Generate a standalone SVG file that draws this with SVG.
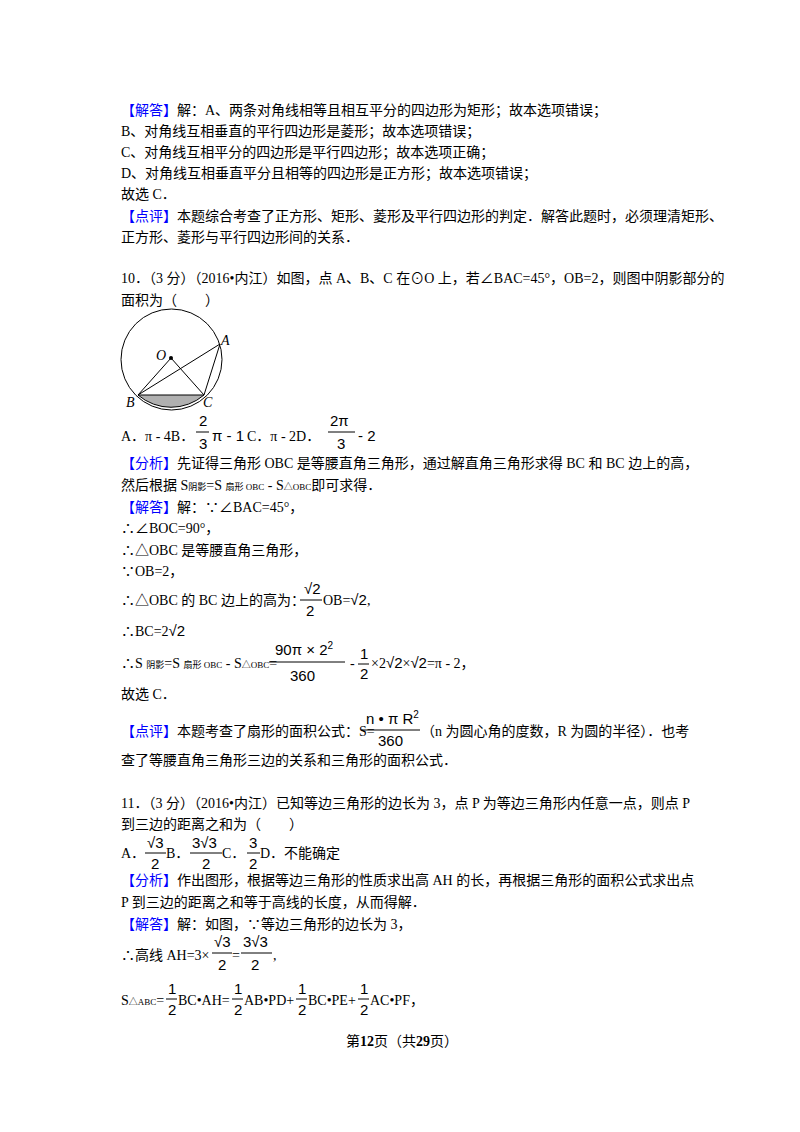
<svg xmlns="http://www.w3.org/2000/svg" width="800" height="1132" viewBox="0 0 800 1132">
<style>
text{font-family:"Liberation Serif","Noto Sans CJK SC",serif;font-size:14px;fill:#000}
.b{fill:#0000ff}
.s{font-family:"Liberation Sans","Noto Sans CJK SC",sans-serif;font-size:15px}
.sm{font-size:9px}
line.f{stroke:#000;stroke-width:1}
</style>
<rect width="800" height="1132" fill="#fff"/>
<text x="121" y="115"><tspan class="b">【解答】</tspan>解：A、两条对角线相等且相互平分的四边形为矩形；故本选项错误；</text>
<text x="121" y="136">B、对角线互相垂直的平行四边形是菱形；故本选项错误；</text>
<text x="121" y="157">C、对角线互相平分的四边形是平行四边形；故本选项正确；</text>
<text x="121" y="178">D、对角线互相垂直平分且相等的四边形是正方形；故本选项错误；</text>
<text x="121" y="199">故选 C．</text>
<text x="121" y="221"><tspan class="b">【点评】</tspan>本题综合考查了正方形、矩形、菱形及平行四边形的判定．解答此题时，必须理清矩形、</text>
<text x="121" y="242">正方形、菱形与平行四边形间的关系．</text>

<text x="121" y="283">10．（3 分）（2016•内江）如图，点 A、B、C 在⊙O 上，若∠BAC=45°，OB=2，则图中阴影部分的</text>
<text x="121" y="305">面积为（　　）</text>
<g id="figure">
<path d="M138,395 A50.5,50.5 0 0 0 204,395 Z" fill="#b0b0b0" stroke="#000"/>
<circle cx="171.5" cy="359.5" r="50.5" fill="none" stroke="#000"/>
<path d="M138,395 L171,358 L204,395 M138,395 L220,344 L204,395" fill="none" stroke="#000"/>
<circle cx="171" cy="358" r="2" fill="#000"/>
<text x="156" y="360" font-style="italic">O</text>
<text x="221" y="345" font-style="italic">A</text>
<text x="126" y="407" font-style="italic">B</text>
<text x="203" y="407" font-style="italic">C</text>
</g>
<text x="121" y="441">A．π - 4B．</text>
<text x="199" y="426" class="s">2</text><line class="f" x1="196" y1="432" x2="209" y2="432"/><text x="199" y="449" class="s">3</text>
<text x="212" y="441" class="s">π - 1</text><text x="247" y="441">C．π - 2D．</text>
<text x="330" y="426" class="s">2π</text><line class="f" x1="328" y1="432" x2="355" y2="432"/><text x="337" y="449" class="s">3</text>
<text x="358" y="441" class="s">- 2</text>

<text x="121" y="468"><tspan class="b">【分析】</tspan>先证得三角形 OBC 是等腰直角三角形，通过解直角三角形求得 BC 和 BC 边上的高，</text>
<text x="121" y="490">然后根据 S<tspan class="sm">阴影</tspan>=S <tspan class="sm">扇形 OBC</tspan> - S<tspan class="sm">△OBC</tspan>即可求得．</text>
<text x="121" y="512"><tspan class="b">【解答】</tspan>解：∵∠BAC=45°，</text>
<text x="121" y="533">∴∠BOC=90°，</text>
<text x="121" y="555">∴△OBC 是等腰直角三角形，</text>
<text x="121" y="576">∵OB=2，</text>
<text x="121" y="605">∴△OBC 的 BC 边上的高为：</text>
<text x="304" y="594" class="s">√2</text><line class="f" x1="300" y1="600" x2="322" y2="600"/><text x="306" y="616" class="s">2</text>
<text x="323" y="605">OB=<tspan class="s">√2</tspan>,</text>
<text x="121" y="636">∴BC=2<tspan class="s">√2</tspan></text>
<text x="121" y="668">∴S <tspan class="sm">阴影</tspan>=S <tspan class="sm">扇形 OBC</tspan> - S<tspan class="sm">△OBC</tspan>=</text>
<text x="275" y="655" class="s">90π × 2<tspan dy="-6" font-size="10">2</tspan></text>
<line class="f" x1="269" y1="662" x2="345" y2="662"/><text x="290" y="681" class="s">360</text>
<text x="350" y="668">-</text>
<text x="360" y="659" class="s">1</text><line class="f" x1="358" y1="664" x2="369" y2="664"/><text x="360" y="679" class="s">2</text>
<text x="371" y="668">×2<tspan class="s">√2</tspan>×<tspan class="s">√2</tspan>=π - 2，</text>
<text x="121" y="699">故选 C．</text>
<text x="121" y="736"><tspan class="b">【点评】</tspan>本题考查了扇形的面积公式：S=</text>
<text x="366" y="724" class="s">n • π R<tspan dy="-6" font-size="10">2</tspan></text>
<line class="f" x1="362" y1="730" x2="420" y2="730"/><text x="378" y="746" class="s">360</text>
<text x="421" y="736">（n 为圆心角的度数，R 为圆的半径）．也考</text>
<text x="121" y="765">查了等腰直角三角形三边的关系和三角形的面积公式．</text>

<text x="121" y="808">11．（3 分）（2016•内江）已知等边三角形的边长为 3，点 P 为等边三角形内任意一点，则点 P</text>
<text x="121" y="829">到三边的距离之和为（　　）</text>
<text x="121" y="858">A．</text>
<text x="147" y="848" class="s">√3</text><line class="f" x1="145" y1="853" x2="166" y2="853"/><text x="151" y="869" class="s">2</text>
<text x="166" y="858">B．</text>
<text x="192" y="848" class="s">3√3</text><line class="f" x1="190" y1="853" x2="222" y2="853"/><text x="202" y="869" class="s">2</text>
<text x="222" y="858">C．</text>
<text x="249" y="848" class="s">3</text><line class="f" x1="247" y1="853" x2="260" y2="853"/><text x="249" y="869" class="s">2</text>
<text x="260" y="858">D．不能确定</text>
<text x="121" y="885"><tspan class="b">【分析】</tspan>作出图形，根据等边三角形的性质求出高 AH 的长，再根据三角形的面积公式求出点</text>
<text x="121" y="907">P 到三边的距离之和等于高线的长度，从而得解．</text>
<text x="121" y="929"><tspan class="b">【解答】</tspan>解：如图，∵等边三角形的边长为 3，</text>
<text x="121" y="960">∴高线 AH=3×</text>
<text x="214" y="947" class="s">√3</text><line class="f" x1="212" y1="953" x2="232" y2="953"/><text x="218" y="970" class="s">2</text>
<text x="232" y="960">=</text>
<text x="243" y="947" class="s">3√3</text><line class="f" x1="241" y1="953" x2="272" y2="953"/><text x="251" y="970" class="s">2</text>
<text x="273" y="960">,</text>
<text x="121" y="1005">S<tspan class="sm">△ABC</tspan>=</text>
<text x="168" y="994" class="s">1</text><line class="f" x1="166" y1="999" x2="177" y2="999"/><text x="168" y="1015" class="s">2</text>
<text x="178" y="1005">BC•AH=</text>
<text x="234" y="994" class="s">1</text><line class="f" x1="232" y1="999" x2="243" y2="999"/><text x="234" y="1015" class="s">2</text>
<text x="244" y="1005">AB•PD+</text>
<text x="298" y="994" class="s">1</text><line class="f" x1="296" y1="999" x2="307" y2="999"/><text x="298" y="1015" class="s">2</text>
<text x="308" y="1005">BC•PE+</text>
<text x="360" y="994" class="s">1</text><line class="f" x1="358" y1="999" x2="369" y2="999"/><text x="360" y="1015" class="s">2</text>
<text x="370" y="1005">AC•PF，</text>
<text x="346" y="1046" font-size="12">第<tspan font-weight="bold" font-size="14">12</tspan>页（共<tspan font-weight="bold" font-size="14">29</tspan>页）</text>
</svg>
